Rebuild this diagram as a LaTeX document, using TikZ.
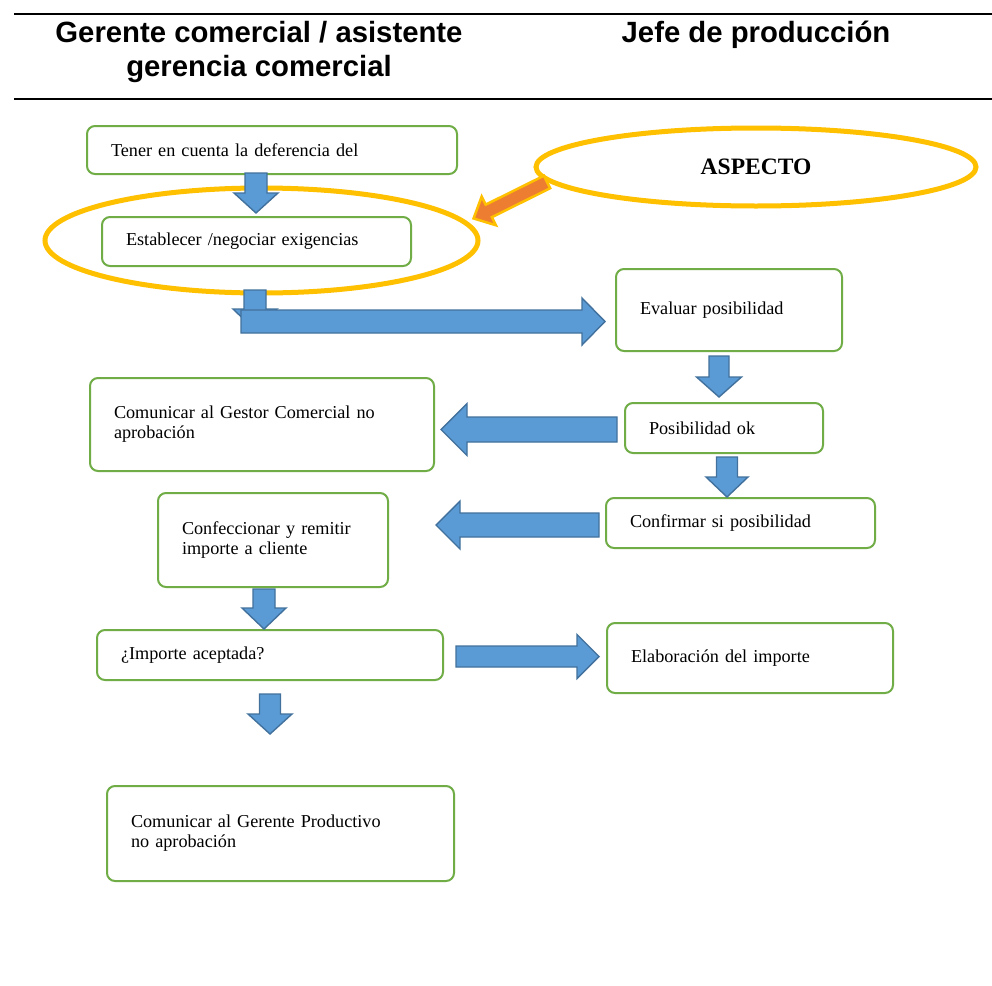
\documentclass[tikz,border=0pt]{standalone}
\usepackage{fontspec}
\setmainfont{Liberation Serif}
\newfontfamily\hdrfont{Liberation Sans}
\usetikzlibrary{shapes.geometric}
\definecolor{boxgreen}{HTML}{70AD47}
\definecolor{arrblue}{HTML}{5B9BD5}
\definecolor{arrline}{HTML}{41719C}
\definecolor{hlyellow}{HTML}{FFC000}
\definecolor{hlorange}{HTML}{ED7D31}
\newcommand\bxfont{\fontsize{18.2}{20}\selectfont}
\tikzset{
  hdr/.style={font=\hdrfont\fontsize{29.3}{34}\selectfont\bfseries, inner sep=0pt, anchor=base},
  hdrline/.style={line width=2.8pt, black},
  stepbox/.style={draw=boxgreen, line width=2pt, rounded corners=8pt, fill=white,
     anchor=north west, align=left, inner xsep=24pt, inner ysep=0pt, font=\bxfont},
  blockarr/.style={fill=arrblue, draw=arrline, line width=1.4pt, line join=miter},
  hlell/.style={draw=hlyellow, line width=5pt, ellipse, inner sep=0pt},
  orangearr/.style={fill=hlorange, draw=hlyellow, line width=2.5pt, line join=miter}
}
% vertical block arrow: cx, top, head start, tip, shaft half width, head half width
\newcommand\ArrV[6]{\draw[blockarr] ({#1-#5},#2) -- ({#1+#5},#2) -- ({#1+#5},#3) -- ({#1+#6},#3) -- (#1,#4) -- ({#1-#6},#3) -- ({#1-#5},#3) -- cycle;}
% horizontal block arrow: cy, tail x, head start x, tip x, shaft half width, head half width
\newcommand\ArrH[6]{\draw[blockarr] (#2,{#1-#5}) -- (#3,{#1-#5}) -- (#3,{#1-#6}) -- (#4,#1) -- (#3,{#1+#6}) -- (#3,{#1+#5}) -- (#2,{#1+#5}) -- cycle;}
\begin{document}
\begin{tikzpicture}[x=1pt,y=-1pt]
\useasboundingbox (0,0) rectangle (992,985);
\fill[white] (0,0) rectangle (992,985);
% header
\coordinate (tl1) at (14,14); \coordinate (tr1) at (992,14);
\coordinate (tl2) at (14,99); \coordinate (tr2) at (992,99);
\draw[hdrline] (tl1) -- (tr1);
\draw[hdrline] (tl2) -- (tr2);
\node[hdr] (hA1) at (259,42) {Gerente comercial / asistente};
\node[hdr] (hA2) at (259,76) {gerencia comercial};
\node[hdr] (hB) at (756,42) {Jefe de producción};
% highlight ellipses
\node[hlell, minimum width=433pt, minimum height=105pt] (hl) at (261.5,240.5) {};
\node[hlell, minimum width=440pt, minimum height=78pt, font=\fontsize{23.5}{28}\selectfont\bfseries] (aspecto) at (756,167) {ASPECTO};
% boxes
\node[stepbox, text width=322pt, minimum height=48pt] (b1) at (86,125) {Tener en cuenta la deferencia del};
\node[stepbox, text width=261pt, minimum height=49pt] (b2) at (101,216) {Establecer /negociar exigencias};
\node[stepbox, text width=178pt, minimum height=82pt] (b3) at (615,268) {Evaluar posibilidad};
\node[stepbox, text width=296pt, minimum height=93pt] (b4) at (89,377) {Comunicar al Gestor Comercial no\\aprobación};
\node[stepbox, text width=150pt, minimum height=50pt] (b5) at (624,402) {Posibilidad ok};
\node[stepbox, text width=221pt, minimum height=50pt] (b6) at (605,497) {Confirmar si posibilidad};
\node[stepbox, text width=182pt, minimum height=94pt] (b7) at (157,492) {Confeccionar y remitir\\importe a cliente};
\node[stepbox, text width=298pt, minimum height=50pt] (b8) at (96,629) {¿Importe aceptada?};
\node[stepbox, text width=238pt, minimum height=70pt] (b9) at (606,622) {Elaboración del importe};
\node[stepbox, text width=299pt, minimum height=95pt] (b10) at (106,785) {Comunicar al Gerente Productivo\\no aprobación};
% blue block arrows
\ArrV{256}{173}{193}{213}{11}{22}
\ArrV{255}{290}{309}{330}{11}{22}
\ArrH{321.5}{241}{582}{605}{11.5}{23.5}
\ArrV{719}{356}{377}{397}{10}{22.5}
\ArrH{429.5}{617}{467}{441}{12.5}{26}
\ArrV{727}{457}{477}{497}{10.5}{21}
\ArrH{525}{599}{460}{436}{12}{24}
\ArrV{264}{589}{608}{629}{11}{22}
\ArrH{656.5}{456}{577}{599}{10.5}{22}
\ArrV{270}{694}{714}{734}{10.5}{22}
% orange arrow from ASPECTO toward the highlighted step
\begin{scope}[shift={(547,182)}, rotate=206.4]
\draw[orangearr] (0,-7) -- (65,-7) -- (65,-16) -- (82,0) -- (65,16) -- (65,7) -- (0,7) -- cycle;
\end{scope}
\end{tikzpicture}
\end{document}
